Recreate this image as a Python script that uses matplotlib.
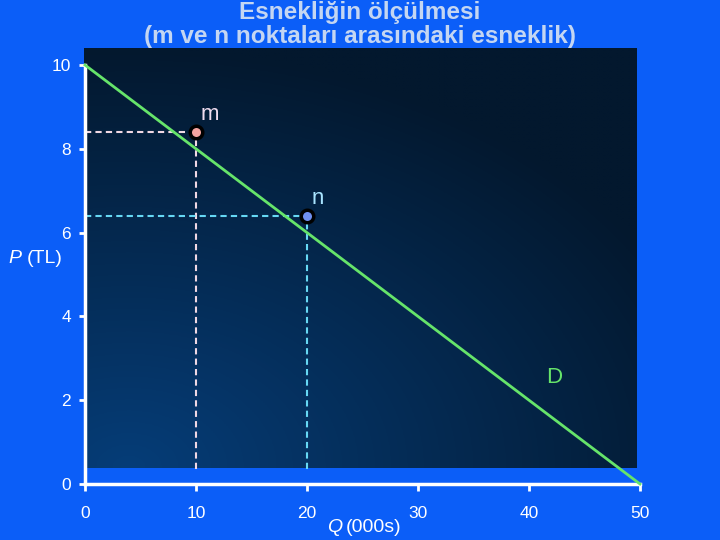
import matplotlib.pyplot as plt
import numpy as np

# demand line and the two points
q_line = [0, 50]
p_line = [10, 0]
pt_names = ["m", "n"]
pt_q = [10, 20]
pt_p = [8.4, 6.4]
pt_colors = ["#f4a3a0", "#6f8ff0"]
dash_colors = ["#f0d8e4", "#66d8f4"]
label_colors = ["#f0dcef", "#a8e4ff"]
drop_bottom = 0.35
x_ticks = [0, 10, 20, 30, 40, 50]
y_ticks = [0, 2, 4, 6, 8, 10]

BG = "#0b5ef8"
FONT = ["Liberation Sans Narrow", "Liberation Sans", "DejaVu Sans"]
plt.rcParams["font.family"] = FONT

fig = plt.figure(figsize=(7.2, 5.4), dpi=100, facecolor=BG)

# dark gradient panel behind the plot
panel = fig.add_axes([84 / 720, 1 - 468 / 540, 552 / 720, 420 / 540], zorder=0)
gx, gy = np.meshgrid(np.linspace(0, 1, 300), np.linspace(0, 1, 240))
r = np.sqrt(((gx - 0.08) / 1.1) ** 2 + ((gy - 0.0) / 1.0) ** 2)
t = np.clip(r, 0, 1)
c0 = np.array([0x06, 0x3d, 0x78]) / 255
c1 = np.array([0x03, 0x18, 0x2e]) / 255
img = c0[None, None, :] * (1 - t[..., None]) + c1[None, None, :] * t[..., None]
panel.imshow(img, origin="lower", aspect="auto", extent=[0, 1, 0, 1])
panel.axis("off")

ax = fig.add_axes([85 / 720, 1 - 484 / 540, 555 / 720, 419 / 540], zorder=1)
ax.patch.set_alpha(0)
ax.set_xlim(0, 50)
ax.set_ylim(0, 10)
for s in ["top", "right"]:
    ax.spines[s].set_visible(False)
for s in ["left", "bottom"]:
    ax.spines[s].set_color("white")
    ax.spines[s].set_linewidth(2.5)
ax.spines["left"].set_bounds(0, 10)
ax.spines["bottom"].set_bounds(0, 50)
ax.set_xticks(x_ticks)
ax.set_yticks(y_ticks)
ax.tick_params(axis="x", colors="white", length=5, width=2, pad=11, labelsize=12.5)
ax.tick_params(axis="y", colors="white", length=4, width=2, pad=6, labelsize=12.5)

ax.plot(q_line, p_line, color="#66e46a", lw=2, zorder=3, clip_on=False)

for q, p, fc, dc in zip(pt_q, pt_p, pt_colors, dash_colors):
    ax.plot([0, q], [p, p], ls=(0, (3, 2)), color=dc, lw=1.5, zorder=2)
    ax.plot([q, q], [drop_bottom, p], ls=(0, (3, 2)), color=dc, lw=1.5, zorder=2)
    ax.plot(q, p, "o", ms=9, mfc=fc, mec="black", mew=2.5, zorder=4)

for name, q, p, lc in zip(pt_names, pt_q, pt_p, label_colors):
    ax.text(q + 0.4, p + 0.42, name, color=lc, fontsize=16, ha="left", va="center")
ax.text(41.5, 2.55, "D", color="#66e46a", fontsize=16, ha="left", va="center")

fig.text(8 / 720, 1 - 258 / 540, "P", color="white", fontsize=14, va="center", ha="left",
         style="italic")
fig.text(27 / 720, 1 - 258 / 540, "(TL)", color="white", fontsize=14, va="center", ha="left")
fig.text(327 / 720, 1 - 527 / 540, "Q", color="white", fontsize=14, va="center", ha="left",
         style="italic")
fig.text(346 / 720, 1 - 527 / 540, "(000s)", color="white", fontsize=14, va="center", ha="left")

fig.text(0.5, 1 - 12 / 540, "Esnekliğin ölçülmesi", color="#c4d6f2", fontsize=17.5,
         fontweight="bold", ha="center", va="center")
fig.text(0.5, 1 - 37 / 540, "(m ve n noktaları arasındaki esneklik)", color="#c4d6f2",
         fontsize=17.5, fontweight="bold", ha="center", va="center")

fig.savefig("out.png", dpi=100, facecolor=BG)
